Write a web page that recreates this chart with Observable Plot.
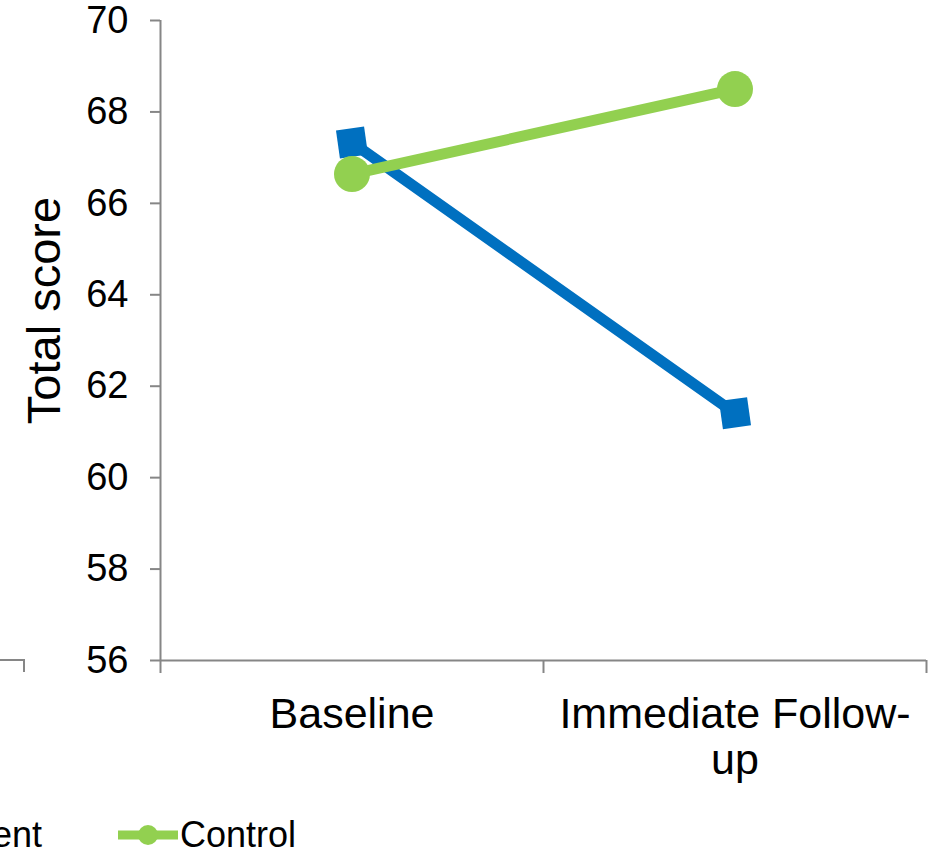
<!DOCTYPE html>
<html>
<head>
<meta charset="utf-8">
<script src="https://cdn.jsdelivr.net/npm/d3@7"></script>
<script src="https://cdn.jsdelivr.net/npm/@observablehq/plot@0.6"></script>
<style>
  body { margin: 0; background: #fff; font-family: "Liberation Sans", Arial, sans-serif; }
  #wrap { position: relative; width: 928px; height: 852px; overflow: hidden; background: #fff; }
  #legend { position: relative; width: 928px; height: 52px; font-size: 36px; color: #000; }
  .item { position: absolute; top: 17px; display: flex; align-items: center; line-height: 36px; white-space: nowrap; }
  .item svg { display: block; margin-right: 2px; }
  #stray { position: absolute; left: 0; top: 659px; width: 25px; height: 13px;
           border-top: 2px solid #868686; border-right: 2px solid #868686; box-sizing: border-box; }
</style>
</head>
<body>
<div id="wrap">
  <div id="chart"></div>
  <div id="legend"></div>
  <div id="stray"></div>
</div>
<script>
// ---- data ----
const categories = ["Baseline", "Immediate Follow-up"];
const categoryLabels = ["Baseline", "Immediate Follow-\nup"];
const seriesNames = ["Treatment", "Control"];
const treatmentValues = [67.33, 61.41];
const controlValues = [66.64, 68.50];
const yTicks = [56, 58, 60, 62, 64, 66, 68, 70];
const seriesColors = ["#0070C0", "#92D050"];
const titleText = "Total score";

// ---- table ----
const treatmentRows = categories.map((c, i) => ({series: seriesNames[0], category: c, pos: i + 0.5, value: treatmentValues[i]}));
const controlRows = categories.map((c, i) => ({series: seriesNames[1], category: c, pos: i + 0.5, value: controlValues[i]}));
const gray = "#868686";

const chart = Plot.plot({
  width: 928,
  height: 800,
  marginLeft: 160,
  marginRight: 2,
  marginTop: 20,
  marginBottom: 140,
  style: {fontFamily: "Liberation Sans, Arial, sans-serif", color: "#000", background: "#fff", overflow: "visible"},
  x: {domain: [0, categories.length]},
  y: {domain: [yTicks[0], yTicks[yTicks.length - 1]]},
  marks: [
    Plot.ruleY([yTicks[0]], {stroke: gray, strokeWidth: 2}),
    Plot.ruleX([0], {stroke: gray, strokeWidth: 2}),
    Plot.axisX({ticks: d3.range(categories.length + 1), tickSize: 13, tickFormat: () => "", stroke: gray, strokeWidth: 2, label: null}),
    Plot.axisX({ticks: categories.map((c, i) => i + 0.5), tickSize: 0, tickPadding: 35,
      tickFormat: d => categoryLabels[Math.floor(d)], fontSize: 43, lineHeight: 1.07, fill: "#000", label: null}),
    Plot.axisY({ticks: yTicks, tickSize: 10, tickPadding: 22, fontSize: 38, stroke: gray, strokeWidth: 2, fill: "#000", label: null}),
    Plot.text([titleText], {text: d => d, frameAnchor: "left", textAnchor: "middle", lineAnchor: "middle",
      rotate: -90, dx: -116, dy: -30, fontSize: 47, fill: "#000"}),
    Plot.line(treatmentRows, {x: "pos", y: "value", stroke: seriesColors[0], strokeWidth: 11}),
    Plot.dot(treatmentRows, {x: "pos", y: "value", symbol: "square", r: 16, fill: seriesColors[0], rotate: -8}),
    Plot.line(controlRows, {x: "pos", y: "value", stroke: seriesColors[1], strokeWidth: 11}),
    Plot.dot(controlRows, {x: "pos", y: "value", r: 18, fill: seriesColors[1]})
  ]
});
document.getElementById("chart").appendChild(chart);

// ---- legend ----
const legend = d3.select("#legend");
seriesNames.forEach((name, i) => {
  const item = legend.append("div").attr("class", "item");
  if (i === 0) item.style("right", (928 - 42) + "px");
  else item.style("left", "118px");
  const svg = item.append("svg").attr("width", 60).attr("height", 24);
  svg.append("line").attr("x1", 0).attr("x2", 60).attr("y1", 12).attr("y2", 12)
    .attr("stroke", seriesColors[i]).attr("stroke-width", 9);
  if (i === 0) {
    svg.append("rect").attr("x", 21).attr("y", 3).attr("width", 18).attr("height", 18).attr("fill", seriesColors[i]);
  } else {
    svg.append("circle").attr("cx", 30).attr("cy", 12).attr("r", 10).attr("fill", seriesColors[i]);
  }
  item.append("span").text(name);
});
</script>
</body>
</html>
